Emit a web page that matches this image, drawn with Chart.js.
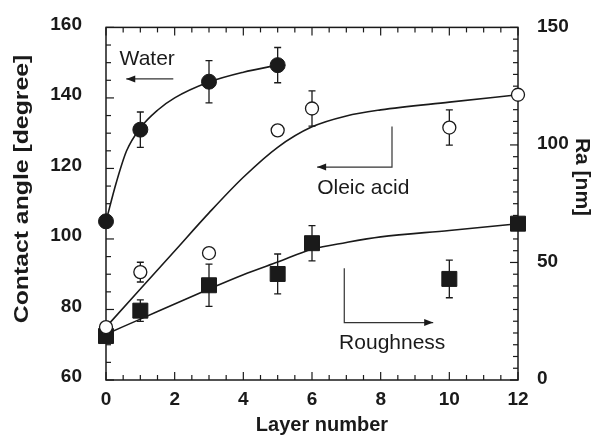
<!DOCTYPE html>
<html>
<head>
<meta charset="utf-8">
<script src="https://cdn.jsdelivr.net/npm/chart.js@4.4.0/dist/chart.umd.min.js"></script>
<style>
  html, body { margin: 0; padding: 0; background: #fff; }
</style>
</head>
<body>
<canvas id="contactChart" width="596" height="441"></canvas>
<script>
// ===== DATA =====
const waterLayers = [0, 1, 3, 5];
const waterAngle = [105, 131, 144.6, 149.3];
const waterErr = [0, 5, 6, 5];

const oleicLayers = [0, 1, 3, 5, 6, 10, 12];
const oleicAngle = [75, 90.6, 96, 130.8, 137, 131.6, 140.9];
const oleicErr = [0, 2.8, 0, 0, 5, 5, 0];

const roughLayers = [0, 1, 3, 5, 6, 10, 12];
const roughRa = [18.7, 29.5, 40.3, 45.1, 58.2, 43, 66.5];
const roughErr = [0, 4.6, 9, 8.5, 7.5, 8, 0];

// fitted curves
const waterFitX = [0, 0.3, 0.6, 1, 1.5, 2, 3, 4, 5];
const waterFitY = [105, 116, 125, 131.5, 136.5, 140, 144.5, 147.3, 149.3];
const oleicFitX = [0, 1, 2, 3, 4, 5, 6, 7, 8, 10, 12];
const oleicFitY = [75, 85.8, 96.6, 107.4, 117.5, 126, 131.8, 134.9, 136.6, 138.8, 140.9];
const roughFitX = [0, 1, 2, 3, 4, 5, 6, 7, 8, 10, 12];
const roughFitY = [19.5, 25.9, 32.3, 38.7, 44.8, 50.2, 55.6, 58.5, 60.9, 63.6, 66.5];

// axis tick labels
const layerTicks = [0, 2, 4, 6, 8, 10, 12];
const angleTicks = [60, 80, 100, 120, 140, 160];
const raTicks = [0, 50, 100, 150];

const FONT = '"Liberation Sans", Arial, sans-serif';
const INK = '#1a1a1a';

const toPoints = (xs, ys) => xs.map((x, i) => ({ x: x, y: ys[i] }));

// annotation arrows/text, in layer / angle units
const notes = [
  { text: 'Water', x: 1.2, y: 149.2, align: 'center', path: [[1.96, 145.4], [0.59, 145.4]] },
  { text: 'Oleic acid', x: 6.15, y: 112.7, align: 'left', path: [[8.33, 131.9], [8.33, 120.4], [6.15, 120.4]] },
  { text: 'Roughness', x: 6.79, y: 68.9, align: 'left', path: [[6.94, 91.7], [6.94, 76.3], [9.53, 76.3]] }
];

function drawErrorBars(ctx, xScale, yScale, xs, ys, errs) {
  xs.forEach((xv, i) => {
    if (!errs[i]) return;
    const px = xScale.getPixelForValue(xv);
    const top = yScale.getPixelForValue(ys[i] + errs[i]);
    const bot = yScale.getPixelForValue(ys[i] - errs[i]);
    ctx.beginPath();
    ctx.moveTo(px, top); ctx.lineTo(px, bot);
    ctx.moveTo(px - 3.5, top); ctx.lineTo(px + 3.5, top);
    ctx.moveTo(px - 3.5, bot); ctx.lineTo(px + 3.5, bot);
    ctx.stroke();
  });
}

function drawTicks(ctx, scale, from, to, step, majorEvery, side, area) {
  for (let v = from; v <= to + 1e-9; v += step) {
    const major = Math.abs(v / majorEvery - Math.round(v / majorEvery)) < 1e-6;
    const len = major ? 8 : 5;
    const p = scale.getPixelForValue(v);
    ctx.beginPath();
    if (side === 'bottom') { ctx.moveTo(p, area.bottom); ctx.lineTo(p, area.bottom - len); }
    if (side === 'top') { ctx.moveTo(p, area.top); ctx.lineTo(p, area.top + len); }
    if (side === 'left') { ctx.moveTo(area.left, p); ctx.lineTo(area.left + len, p); }
    if (side === 'right') { ctx.moveTo(area.right, p); ctx.lineTo(area.right - len, p); }
    ctx.stroke();
  }
}

const decorPlugin = {
  id: 'decor',
  beforeDatasetsDraw(chart) {
    const ctx = chart.ctx;
    const area = chart.chartArea;
    const xs = chart.scales.x, yl = chart.scales.y, yr = chart.scales.y2;
    ctx.save();
    ctx.strokeStyle = INK;
    // frame
    ctx.lineWidth = 1.5;
    ctx.strokeRect(area.left, area.top, area.right - area.left, area.bottom - area.top);
    // inward ticks
    ctx.lineWidth = 1.2;
    drawTicks(ctx, xs, 0, 12, 0.5, 2, 'bottom', area);
    drawTicks(ctx, xs, 0, 12, 0.5, 2, 'top', area);
    drawTicks(ctx, yl, 60, 160, 5, 20, 'left', area);
    drawTicks(ctx, yr, 0, 150, 5, 50, 'right', area);
    // error bars
    ctx.lineWidth = 1.3;
    drawErrorBars(ctx, xs, yl, waterLayers, waterAngle, waterErr);
    drawErrorBars(ctx, xs, yl, oleicLayers, oleicAngle, oleicErr);
    drawErrorBars(ctx, xs, yr, roughLayers, roughRa, roughErr);
    ctx.restore();
  },
  afterDraw(chart) {
    const ctx = chart.ctx;
    const xs = chart.scales.x, yl = chart.scales.y;
    ctx.save();
    ctx.fillStyle = INK;
    ctx.textBaseline = 'middle';
    ctx.textAlign = 'center';
    ctx.font = 'bold 20px ' + FONT;
    // axis titles
    ctx.fillText('Layer number', 322, 425);
    ctx.save();
    ctx.translate(22, 189);
    ctx.rotate(-Math.PI / 2);
    ctx.scale(1.18, 1);
    ctx.font = 'bold 21px ' + FONT;
    ctx.fillText('Contact angle [degree]', 0, 0);
    ctx.restore();
    ctx.save();
    ctx.translate(582, 177);
    ctx.rotate(Math.PI / 2);
    ctx.font = 'bold 21px ' + FONT;
    ctx.fillText('Ra [nm]', 0, 0);
    ctx.restore();

    // annotations
    ctx.font = '21px ' + FONT;
    ctx.textBaseline = 'alphabetic';
    ctx.strokeStyle = '#333';
    ctx.lineWidth = 1.2;
    notes.forEach(n => {
      ctx.textAlign = n.align;
      ctx.fillText(n.text, xs.getPixelForValue(n.x), yl.getPixelForValue(n.y));
      const pts = n.path.map(p => [xs.getPixelForValue(p[0]), yl.getPixelForValue(p[1])]);
      ctx.beginPath();
      pts.forEach((p, i) => i ? ctx.lineTo(p[0], p[1]) : ctx.moveTo(p[0], p[1]));
      ctx.stroke();
      // arrow head at last point
      const a = pts[pts.length - 2], b = pts[pts.length - 1];
      const ang = Math.atan2(b[1] - a[1], b[0] - a[0]);
      ctx.save();
      ctx.translate(b[0], b[1]);
      ctx.rotate(ang);
      ctx.beginPath();
      ctx.moveTo(0, 0);
      ctx.lineTo(-9, -3.5);
      ctx.lineTo(-9, 3.5);
      ctx.closePath();
      ctx.fillStyle = INK;
      ctx.fill();
      ctx.restore();
    });
    ctx.restore();
  }
};

const tickFont = { family: FONT, size: 19, weight: 'bold' };

new Chart(document.getElementById('contactChart'), {
  type: 'scatter',
  data: {
    datasets: [
      {
        label: 'Water',
        data: toPoints(waterLayers, waterAngle),
        yAxisID: 'y',
        pointStyle: 'circle',
        pointRadius: 7.5,
        backgroundColor: INK,
        borderColor: INK,
        borderWidth: 1,
        clip: false,
        order: 0
      },
      {
        label: 'Oleic acid',
        data: toPoints(oleicLayers, oleicAngle),
        yAxisID: 'y',
        pointStyle: 'circle',
        pointRadius: 6.5,
        backgroundColor: '#fff',
        borderColor: INK,
        borderWidth: 1.3,
        clip: false,
        order: 0
      },
      {
        label: 'Roughness',
        data: toPoints(roughLayers, roughRa),
        yAxisID: 'y2',
        pointStyle: 'rect',
        pointRadius: 10.6,
        backgroundColor: INK,
        borderColor: INK,
        borderWidth: 1,
        clip: false,
        order: 0
      },
      {
        label: 'Water fit',
        data: toPoints(waterFitX, waterFitY),
        yAxisID: 'y',
        showLine: true,
        cubicInterpolationMode: 'monotone',
        pointRadius: 0,
        borderColor: INK,
        borderWidth: 1.6,
        clip: false,
        order: 1
      },
      {
        label: 'Oleic fit',
        data: toPoints(oleicFitX, oleicFitY),
        yAxisID: 'y',
        showLine: true,
        cubicInterpolationMode: 'monotone',
        pointRadius: 0,
        borderColor: INK,
        borderWidth: 1.6,
        clip: false,
        order: 1
      },
      {
        label: 'Roughness fit',
        data: toPoints(roughFitX, roughFitY),
        yAxisID: 'y2',
        showLine: true,
        cubicInterpolationMode: 'monotone',
        pointRadius: 0,
        borderColor: INK,
        borderWidth: 1.6,
        clip: false,
        order: 1
      }
    ]
  },
  options: {
    responsive: false,
    animation: false,
    layout: { padding: { top: 24, left: 0, right: 0, bottom: 0 } },
    plugins: {
      legend: { display: false },
      tooltip: { enabled: false }
    },
    scales: {
      x: {
        type: 'linear',
        min: 0,
        max: 12,
        afterBuildTicks: s => { s.ticks = layerTicks.map(v => ({ value: v })); },
        afterFit: s => { s.height = 61; },
        grid: { display: false },
        border: { display: false },
        ticks: { font: tickFont, color: INK, padding: 0, maxRotation: 0 }
      },
      y: {
        type: 'linear',
        position: 'left',
        min: 60,
        max: 160,
        afterBuildTicks: s => { s.ticks = angleTicks.map(v => ({ value: v })); },
        afterFit: s => { s.width = 106; },
        grid: { display: false },
        border: { display: false },
        ticks: { font: tickFont, color: INK, padding: 16, labelOffset: -3 }
      },
      y2: {
        type: 'linear',
        position: 'right',
        min: 0,
        max: 150,
        afterBuildTicks: s => { s.ticks = raTicks.map(v => ({ value: v })); },
        afterFit: s => { s.width = 78; },
        grid: { display: false },
        border: { display: false },
        ticks: { font: tickFont, color: INK, padding: 11, labelOffset: -1 }
      }
    }
  },
  plugins: [decorPlugin]
});
</script>
</body>
</html>
